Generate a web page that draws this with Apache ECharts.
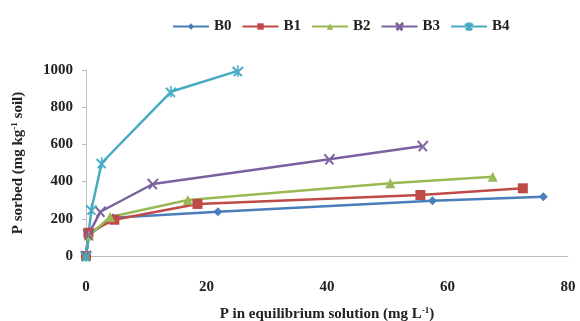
<!DOCTYPE html>
<html><head><meta charset="utf-8">
<script src="https://cdn.jsdelivr.net/npm/echarts@6/dist/echarts.min.js"></script>
<style>html,body{margin:0;padding:0;background:#fff}#c{width:580px;height:321px}</style>
</head><body><div id="c"></div>
<script>
var seriesNames = ['B0','B1','B2','B3','B4'];
var B0 = [[0,0],[0.5,115],[4.5,205],[21.9,238],[57.5,297],[75.9,319]];
var B1 = [[0,0],[0.4,125],[4.7,195],[18.5,280],[55.5,328],[72.5,364]];
var B2 = [[0,0],[0.5,110],[4.0,210],[16.9,301],[50.5,391],[67.5,426]];
var B3 = [[0,0],[0.4,115],[2.4,238],[11.1,387],[40.4,520],[55.9,591]];
var B4 = [[0,0],[0.9,250],[2.6,500],[14.1,883],[25.2,995]];
var seriesData = [B0,B1,B2,B3,B4];
var xTicks = [0,20,40,60,80];
var yTicks = [0,200,400,600,800,1000];

var colors = ['#4a7ebb','#be4b48','#98b954','#7d60a0','#46aac5'];
var symbols = ['diamond','rect','triangle',
  'path://M1,1L9,9L8,10L0,2ZM9,1L1,9L2,10L10,2Z',
  'path://M1,1L9,9L8,10L0,2ZM9,1L1,9L2,10L10,2ZM4.5,0L5.5,0L5.5,10L4.5,10Z'];
var sizes = [9,10,10,11,11];
var font = '"Liberation Serif","Times New Roman",serif';

var chart = echarts.init(document.getElementById('c'), null, {renderer:'canvas'});
chart.setOption({
  animation:false,
  color: colors,
  legend: {
    top: 14, left: 167, itemWidth: 36, itemHeight: 8, itemGap: 10,
    textStyle: {fontFamily: font, fontWeight: 'bold', fontSize: 15, color: '#222'},
    data: seriesNames
  },
  grid: {left: 86, right: 12, top: 70, bottom: 65, containLabel: false, outerBoundsMode: 'none'},
  xAxis: {
    type: 'value', min: 0, max: 80, interval: 20,
    axisLine: {lineStyle: {color: '#bdbdbd', width: 1}},
    axisTick: {show: false},
    splitLine: {show: false},
    axisLabel: {margin: 24, fontFamily: font, fontWeight: 'bold', fontSize: 15, color: '#222',
      formatter: function(v){ return xTicks.indexOf(v) >= 0 ? String(v) : ''; }},
    name: '{a|P in equilibrium solution (mg L}{s|-1}{a|)}',
    nameLocation: 'middle', nameGap: 50,
    nameTextStyle: {rich: {
      a: {fontFamily: font, fontWeight: 'bold', fontSize: 15, color: '#222'},
      s: {fontFamily: font, fontWeight: 'bold', fontSize: 9, color: '#222', verticalAlign: 'top', padding: [0,0,7,0]}
    }}
  },
  yAxis: {
    type: 'value', min: 0, max: 1000, interval: 200,
    axisLine: {show: true, lineStyle: {color: '#bdbdbd', width: 1}},
    axisTick: {show: true, inside: false, length: 4, lineStyle: {color: '#bdbdbd'}},
    splitLine: {show: false},
    axisLabel: {margin: 13, fontFamily: font, fontWeight: 'bold', fontSize: 15, color: '#222',
      formatter: function(v){ return yTicks.indexOf(v) >= 0 ? String(v) : ''; }},
    name: '{a|P sorbed (mg kg}{s|-1}{a| soil)}',
    nameLocation: 'middle', nameGap: 60, nameRotate: 90,
    nameTextStyle: {rich: {
      a: {fontFamily: font, fontWeight: 'bold', fontSize: 15, color: '#222'},
      s: {fontFamily: font, fontWeight: 'bold', fontSize: 9, color: '#222', verticalAlign: 'top', padding: [0,0,7,0]}
    }}
  },
  series: seriesNames.map(function(n, i){
    return {
      name: n, type: 'line', data: seriesData[i],
      symbol: symbols[i], symbolSize: sizes[i], showAllSymbol: true,
      lineStyle: {width: 2.5, color: colors[i]},
      itemStyle: {color: colors[i], borderColor: colors[i], borderWidth: (i >= 3 ? 0.5 : 0)}
    };
  })
});
</script>
</body></html>
